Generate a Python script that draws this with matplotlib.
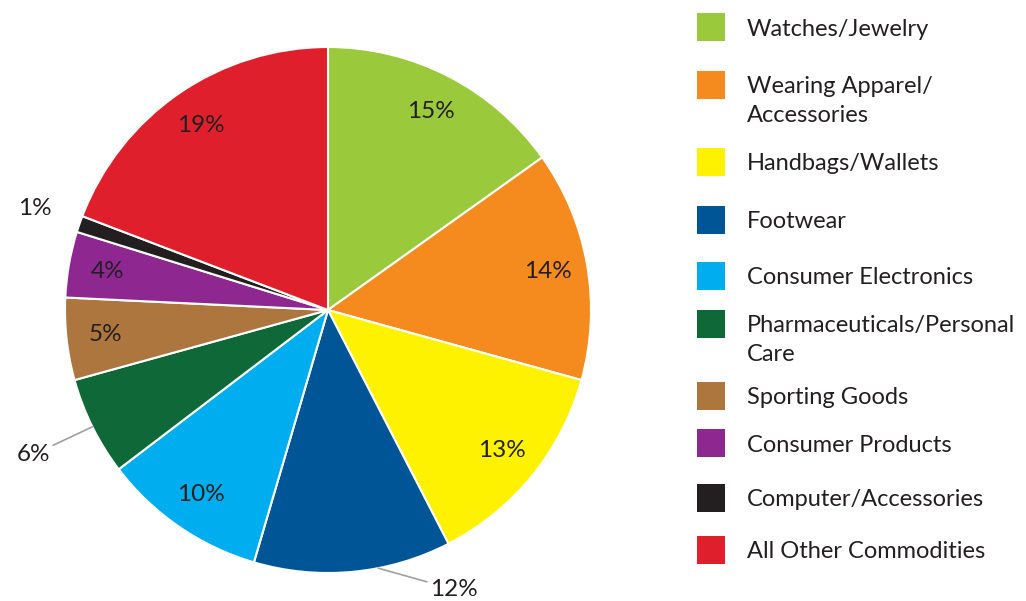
import numpy as np
import matplotlib.pyplot as plt

categories = ['Watches/Jewelry', 'Wearing Apparel/\nAccessories', 'Handbags/Wallets',
              'Footwear', 'Consumer Electronics', 'Pharmaceuticals/Personal\nCare',
              'Sporting Goods', 'Consumer Products', 'Computer/Accessories',
              'All Other Commodities']
shares = [15, 14, 13, 12, 10, 6, 5, 4, 1, 19]
labels = ['15%', '14%', '13%', '12%', '10%', '6%', '5%', '4%', '1%', '19%']
colors = ['#9ACA3C', '#F58A1F', '#FFF200', '#005596', '#00AEEF',
          '#0E6838', '#AD763F', '#8E278F', '#231F20', '#E01F2C']

plt.rcParams['font.family'] = ['Lato', 'DejaVu Sans']
txtc = '#231F20'
fs_pie = 17.5
fs_leg = 17

fig = plt.figure(figsize=(10.26, 6.01), dpi=100)
W, H = 1026, 601
cx, cy, R = 328, 310, 263
ax = fig.add_axes([(cx - R) / W, (H - cy - R) / H, 2 * R / W, 2 * R / H])
wedges, _ = ax.pie(shares, colors=colors, startangle=90, counterclock=False,
                   radius=1, wedgeprops=dict(edgecolor='white', linewidth=1.5))
ax.set_xlim(-1, 1)
ax.set_ylim(-1, 1)
ax.set_aspect('equal')
ax.axis('off')

def pol(r, a):
    a = np.deg2rad(a)
    return r * np.cos(a), r * np.sin(a)

for i, w in enumerate(wedges):
    mid = (w.theta1 + w.theta2) / 2
    if labels[i] == '12%':
        ax.annotate(labels[i], xy=pol(1.0, -79), xytext=pol(1.13, -70),
                    ha='left', va='center', fontsize=fs_pie, color=txtc,
                    arrowprops=dict(arrowstyle='-', color='#A0A0A0', lw=1.2,
                                    shrinkA=0, shrinkB=0))
    elif labels[i] == '6%':
        ax.annotate(labels[i], xy=pol(1.0, mid), xytext=pol(1.19, -152.5),
                    ha='right', va='center', fontsize=fs_pie, color=txtc,
                    arrowprops=dict(arrowstyle='-', color='#A0A0A0', lw=1.2,
                                    shrinkA=0, shrinkB=0))
    elif labels[i] == '1%':
        x, y = pol(1.18, mid)
        ax.text(x, y, labels[i], ha='center', va='center', fontsize=fs_pie, color=txtc)
    else:
        x, y = pol(0.85, mid)
        ax.text(x, y, labels[i], ha='center', va='center', fontsize=fs_pie, color=txtc)

# legend drawn by hand: square centre y and text centre y (pixels from top)
box_y = [27, 85, 162, 220, 276, 324, 396, 443, 498, 550]
text_y = [29, 101, 164, 222, 278, 340, 398, 445, 500, 552]
for name, col, by, ty in zip(categories, colors, box_y, text_y):
    fig.patches.append(plt.Rectangle((697 / W, 1 - (by + 14) / H), 28 / W, 28 / H,
                                     transform=fig.transFigure, facecolor=col,
                                     edgecolor='none'))
    fig.text(747 / W, 1 - ty / H, name, ha='left', va='center',
             fontsize=fs_leg, color=txtc, linespacing=1.42)

fig.savefig('out.png', dpi=100)
